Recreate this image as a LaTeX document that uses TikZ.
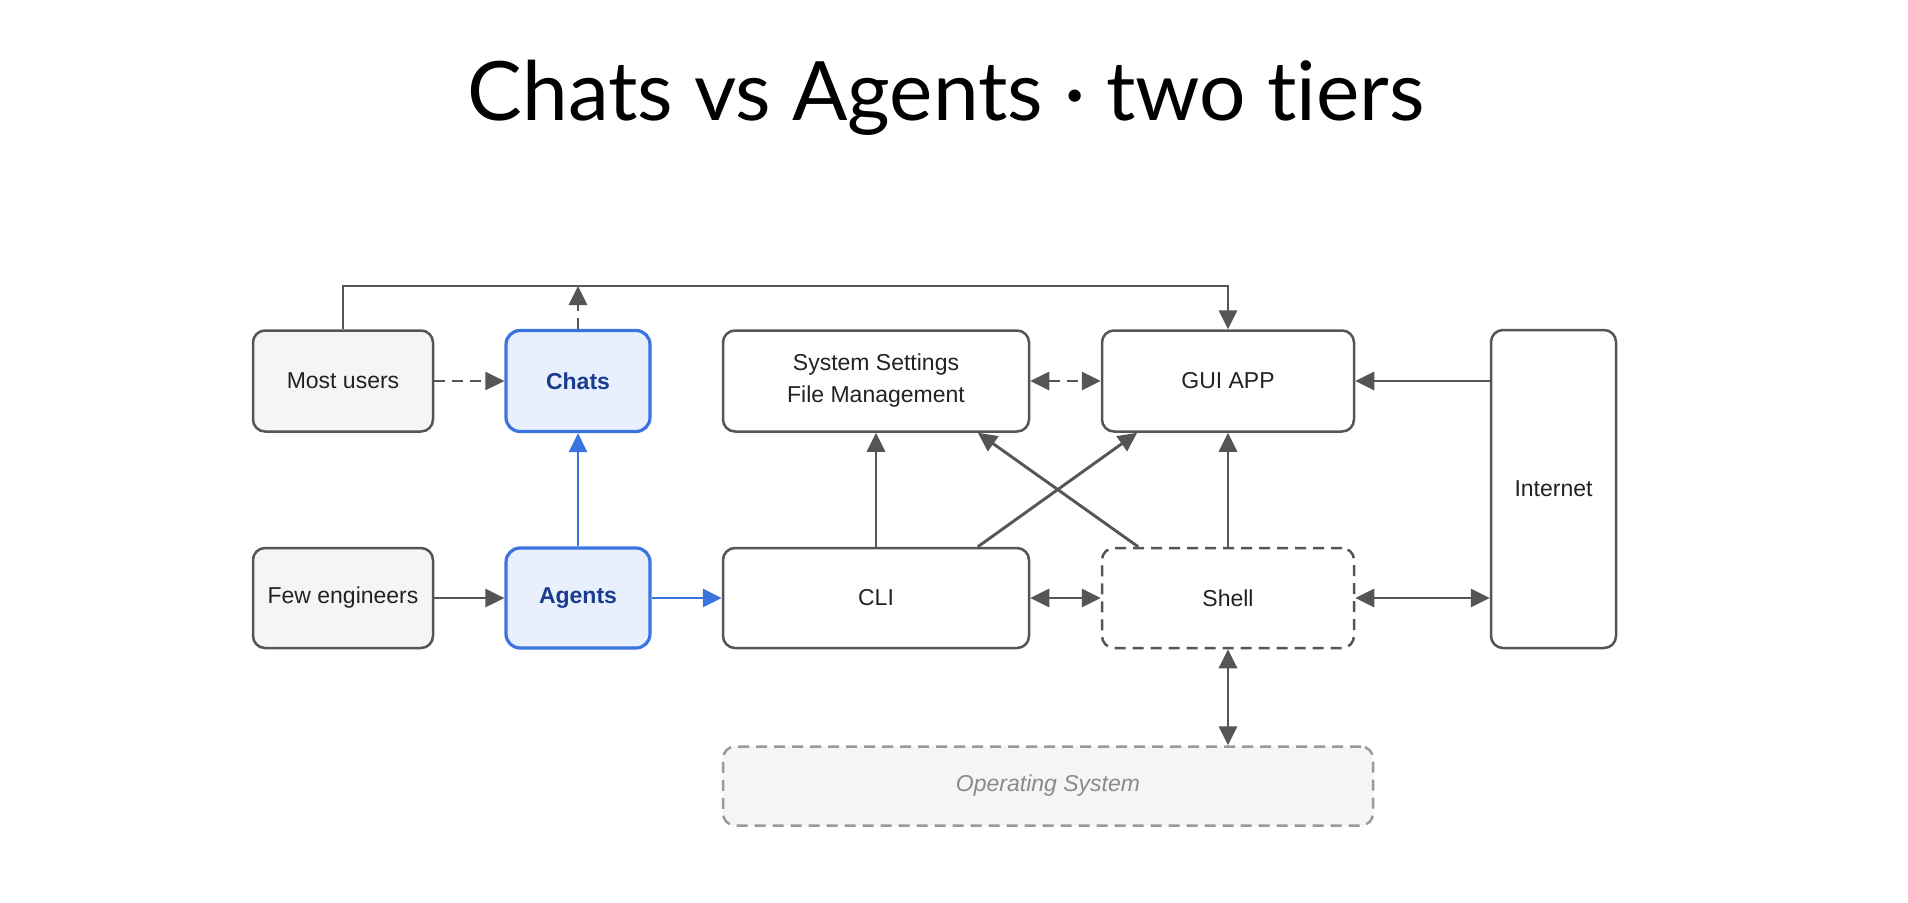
\documentclass[tikz,border=0pt]{standalone}
\usepackage{fontspec}
\setmainfont{Liberation Sans}
\newfontfamily\titlefont[Ligatures={NoCommon}]{Lato}
\usetikzlibrary{arrows.meta,calc}
\definecolor{ln}{HTML}{555555}
\definecolor{txt}{HTML}{222222}
\definecolor{grayfill}{HTML}{F5F5F5}
\definecolor{bluebd}{HTML}{3B74DE}
\definecolor{bluefill}{HTML}{E8F0FE}
\definecolor{bluetxt}{HTML}{1B3C8E}
\definecolor{osbd}{HTML}{9A9A9A}
\definecolor{ostxt}{HTML}{8A8A8A}
\begin{document}
\begin{tikzpicture}[x=1pt,y=-1pt,
  box/.style={draw=ln, line width=2.5pt, rounded corners=12pt, fill=white,
    inner sep=0pt, align=center, text=txt,
    font=\fontsize{23}{32}\selectfont},
  graybox/.style={box, fill=grayfill},
  bluebox/.style={box, draw=bluebd, line width=3.2pt, fill=bluefill, rounded corners=14pt,
    text=bluetxt, font=\fontsize{23}{32}\selectfont\bfseries},
  dashbox/.style={box, dash pattern=on 11pt off 7pt},
  osbox/.style={box, draw=osbd, fill=grayfill, dash pattern=on 11pt off 7pt,
    text=ostxt, font=\fontsize{23}{32}\selectfont\itshape},
  arr/.style={draw=ln, line width=2.9pt, -{Triangle[length=19pt,width=18pt]}},
  darr/.style={draw=ln, line width=2.9pt, {Triangle[length=19pt,width=18pt]}-{Triangle[length=19pt,width=18pt]}},
  barr/.style={draw=bluebd, line width=2.9pt, -{Triangle[length=19pt,width=18pt]}},
  dsh/.style={dash pattern=on 11pt off 7pt}
]
\useasboundingbox (0,0) rectangle (1908,902);

\node[anchor=base, font=\titlefont\fontsize{82}{90}\selectfont] (title) at (946,120) {Chats vs Agents · two tiers};

\node[graybox, minimum width=180pt, minimum height=101pt] (most) at (343,381) {Most users};
\node[bluebox, minimum width=144pt, minimum height=101pt] (chats) at (578,381) {Chats};
\node[box, minimum width=306pt, minimum height=101pt] (sys) at (876,381) {System Settings\\File Management};
\node[box, minimum width=252pt, minimum height=101pt] (gui) at (1228,381) {GUI APP};
\node[box, minimum width=125pt, minimum height=318pt] (inet) at (1553.5,489) {Internet};

\node[graybox, minimum width=180pt, minimum height=100pt] (few) at (343,598) {Few engineers};
\node[bluebox, minimum width=144pt, minimum height=100pt] (agents) at (578,598) {Agents};
\node[box, minimum width=306pt, minimum height=100pt] (cli) at (876,598) {CLI};
\node[dashbox, minimum width=252pt, minimum height=100pt] (shell) at (1228,598) {Shell};

\node[osbox, minimum width=650pt, minimum height=79pt] (os) at (1048,786) {Operating System};

\coordinate (topy) at (0,286);

% top line Most users -> GUI APP
\draw[arr] (most.north) -- (most.north |- topy) -- (gui.north |- topy) -- (gui.north);
% Chats dashed up
\draw[arr, dsh] (chats.north) -- (chats.north |- topy);
% Most users -> Chats
\draw[arr, dsh] (most.east) -- (chats.west);
% Few engineers -> Agents
\draw[arr] (few.east) -- (agents.west);
% Agents -> Chats, Agents -> CLI
\draw[barr] (agents.north) -- (chats.south);
\draw[barr] (agents.east) -- (cli.west);
% Sys <-> GUI
\draw[darr, dsh] (sys.east) -- (gui.west);
% Internet -> GUI
\draw[arr] (inet.west |- gui.east) -- (gui.east);
% CLI -> Sys
\draw[arr] (cli.north) -- (sys.south);
% diagonals
\draw[arr] ($(cli.north west)!0.83!(cli.north east)$) -- ($(gui.south west)!0.143!(gui.south east)$);
\draw[arr] ($(shell.north west)!0.147!(shell.north east)$) -- ($(sys.south west)!0.83!(sys.south east)$);
% Shell -> GUI
\draw[arr] (shell.north) -- (gui.south);
% CLI <-> Shell, Shell <-> Internet
\draw[darr] (cli.east) -- (shell.west);
\draw[darr] (shell.east) -- (inet.west |- shell.east);
% Shell <-> OS
\draw[darr] (shell.south) -- (shell.south |- os.north);
\end{tikzpicture}
\end{document}
